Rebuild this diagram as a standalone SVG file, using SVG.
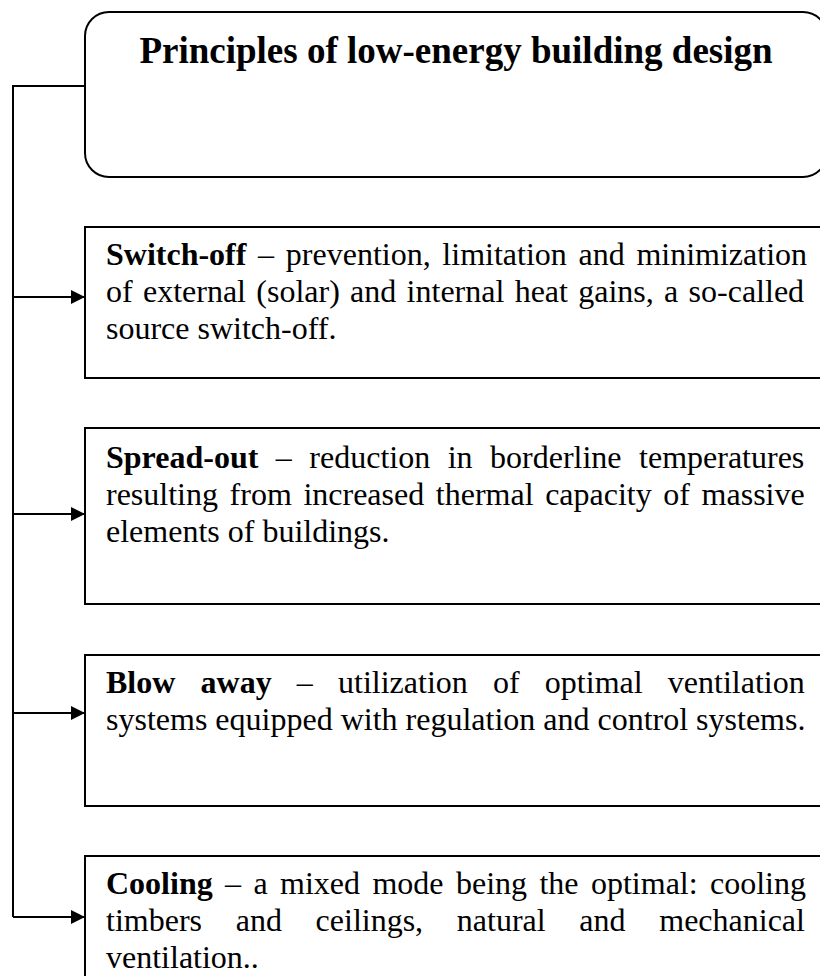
<svg xmlns="http://www.w3.org/2000/svg" width="820" height="976" viewBox="0 0 820 976">
  <style>
    .box { fill: #ffffff; stroke: #000000; stroke-width: 2; }
    .conn { fill: none; stroke: #000000; stroke-width: 2; }
    .title { font-family: "Liberation Serif", "Times New Roman", serif; font-size: 37px; font-weight: bold; fill: #000000; }
    .body { font-family: "Liberation Serif", "Times New Roman", serif; font-size: 32px; fill: #000000; }
    .b { font-weight: bold; }
  </style>
  <defs>
    <marker id="arrow" markerUnits="userSpaceOnUse" markerWidth="14" markerHeight="14" refX="14" refY="7" orient="auto">
      <path d="M0,0 L14,7 L0,14 z" fill="#000000"/>
    </marker>
  </defs>
  <rect width="820" height="976" fill="#ffffff"/>

  <g id="connectors">
    <path class="conn" d="M85,86 H13 V917"/>
    <line class="conn" x1="13" y1="297" x2="85" y2="297" marker-end="url(#arrow)"/>
    <line class="conn" x1="13" y1="514" x2="85" y2="514" marker-end="url(#arrow)"/>
    <line class="conn" x1="13" y1="713" x2="85" y2="713" marker-end="url(#arrow)"/>
    <line class="conn" x1="13" y1="917" x2="85" y2="917" marker-end="url(#arrow)"/>
  </g>

  <g id="title-node">
    <rect class="box" x="85" y="12" width="742" height="165" rx="24" ry="24"/>
    <text class="title" x="456" y="63" text-anchor="middle">Principles of low-energy building design</text>
  </g>

  <g id="switch-off">
    <rect class="box" x="85" y="227" width="750" height="151"/>
    <text class="body" x="106" y="265" word-spacing="3.7"><tspan class="b">Switch-off</tspan> – prevention, limitation and minimization</text>
    <text class="body" x="106" y="302" word-spacing="2.3">of external (solar) and internal heat gains, a so-called</text>
    <text class="body" x="106" y="339">source switch-off.</text>
  </g>

  <g id="spread-out">
    <rect class="box" x="85" y="428" width="750" height="176"/>
    <text class="body" x="106" y="468" word-spacing="9.5"><tspan class="b">Spread-out</tspan> – reduction in borderline temperatures</text>
    <text class="body" x="106" y="505" word-spacing="3.6">resulting from increased thermal capacity of massive</text>
    <text class="body" x="106" y="542">elements of buildings.</text>
  </g>

  <g id="blow-away">
    <rect class="box" x="85" y="655" width="750" height="151"/>
    <text class="body" x="106" y="693" word-spacing="17.2"><tspan class="b">Blow away</tspan> – utilization of optimal ventilation</text>
    <text class="body" x="106" y="730">systems equipped with regulation and control systems.</text>
  </g>

  <g id="cooling">
    <rect class="box" x="85" y="856" width="750" height="160"/>
    <text class="body" x="106" y="894" word-spacing="4.4"><tspan class="b">Cooling</tspan> – a mixed mode being the optimal: cooling</text>
    <text class="body" x="106" y="931" word-spacing="25.7">timbers and ceilings, natural and mechanical</text>
    <text class="body" x="106" y="968">ventilation..</text>
  </g>
</svg>
